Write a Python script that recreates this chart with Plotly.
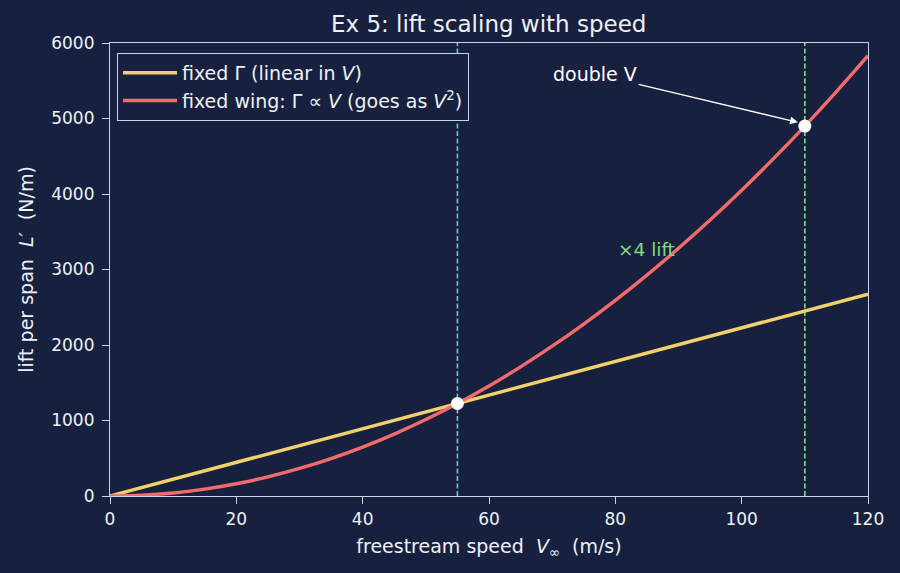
import plotly.graph_objects as go

# Data
speed = [0, 5, 10, 15, 20, 25, 30, 35, 40, 45, 50, 55, 60, 65, 70, 75, 80, 85, 90, 95, 100, 105, 110, 115, 120]
lift_fixed_gamma = [0, 111, 223, 334, 445, 557, 668, 780, 891, 1002, 1114, 1225, 1336,
                    1448, 1559, 1670, 1782, 1893, 2004, 2116, 2227, 2338, 2450, 2561, 2673]
lift_fixed_wing = [0, 10.1, 40.5, 91.1, 162.0, 253.1, 364.5, 496.1, 648.0, 820.0, 1012.4, 1225,
                   1457.9, 1711.0, 1984.3, 2277.9, 2591.7, 2925.8, 3280.2, 3654.8, 4049.6,
                   4464.7, 4900, 5355.6, 5831.4]
ref_speeds = [55, 110]
ref_lifts = [1225, 4900]

BG = "#17213f"
FG = "#eef1f7"
AX = "#c9d3e6"
YELLOW = "#f2d16b"
RED = "#f26b6b"
CYAN = "#5cc8e2"
GREEN = "#86d880"

fig = go.Figure()
fig.add_trace(go.Scatter(x=speed, y=lift_fixed_gamma, mode="lines",
                         line=dict(color=YELLOW, width=3.4),
                         name="fixed Γ (linear in <i>V</i>)"))
fig.add_trace(go.Scatter(x=speed, y=lift_fixed_wing, mode="lines", line_shape="spline",
                         line=dict(color=RED, width=3.4),
                         name="fixed wing: Γ ∝ <i>V</i> (goes as <i>V</i><sup>2</sup>)"))
fig.add_trace(go.Scatter(x=ref_speeds, y=ref_lifts, mode="markers",
                         marker=dict(color="white", size=13), showlegend=False))

fig.add_vline(x=ref_speeds[0], line=dict(color=CYAN, width=1.6, dash="5px,2.5px"), layer="below")
fig.add_vline(x=ref_speeds[1], line=dict(color=GREEN, width=1.6, dash="5px,2.5px"), layer="below")

fig.add_annotation(x=108.9, y=4950, ax=76.8, ay=5589, xref="x", yref="y", axref="x", ayref="y",
                   text="double V", showarrow=True, arrowhead=2, arrowsize=1.2, arrowwidth=1.3,
                   arrowcolor="white", font=dict(color="white", size=19))
fig.add_annotation(x=84.9, y=3271, text="×4 lift", showarrow=False,
                   font=dict(color=GREEN, size=18.5))

axis_common = dict(showline=True, linecolor=AX, linewidth=1.2, mirror=True, ticks="outside",
                   ticklen=7, tickwidth=1.2, tickcolor=AX, tickfont=dict(color=FG, size=17),
                   showgrid=False, zeroline=False)
fig.update_xaxes(range=[0, 120], dtick=20, **axis_common,
                 title=dict(text="freestream speed  <i>V</i><sub>∞</sub>  (m/s)",
                            font=dict(color=FG, size=19), standoff=12))
fig.update_yaxes(range=[0, 6000], dtick=1000, ticklabelstandoff=4, **axis_common,
                 title=dict(text="lift per span  <i>L′</i>  (N/m)",
                            font=dict(color=FG, size=19), standoff=12))

fig.update_layout(
    width=900, height=573,
    paper_bgcolor=BG, plot_bgcolor=BG,
    font=dict(family="DejaVu Sans", color=FG),
    margin=dict(l=110, r=32, t=43, b=77),
    title=dict(text="Ex 5: lift scaling with speed", x=0.543, xanchor="center",
               y=0.958, yanchor="middle", font=dict(size=23, color=FG)),
    legend=dict(x=0.0092, y=0.978, xanchor="left", yanchor="top", bgcolor=BG,
                bordercolor=AX, borderwidth=1, itemwidth=54,
                font=dict(color=FG, size=19)),
    showlegend=True,
)

fig.write_html("out.html")
